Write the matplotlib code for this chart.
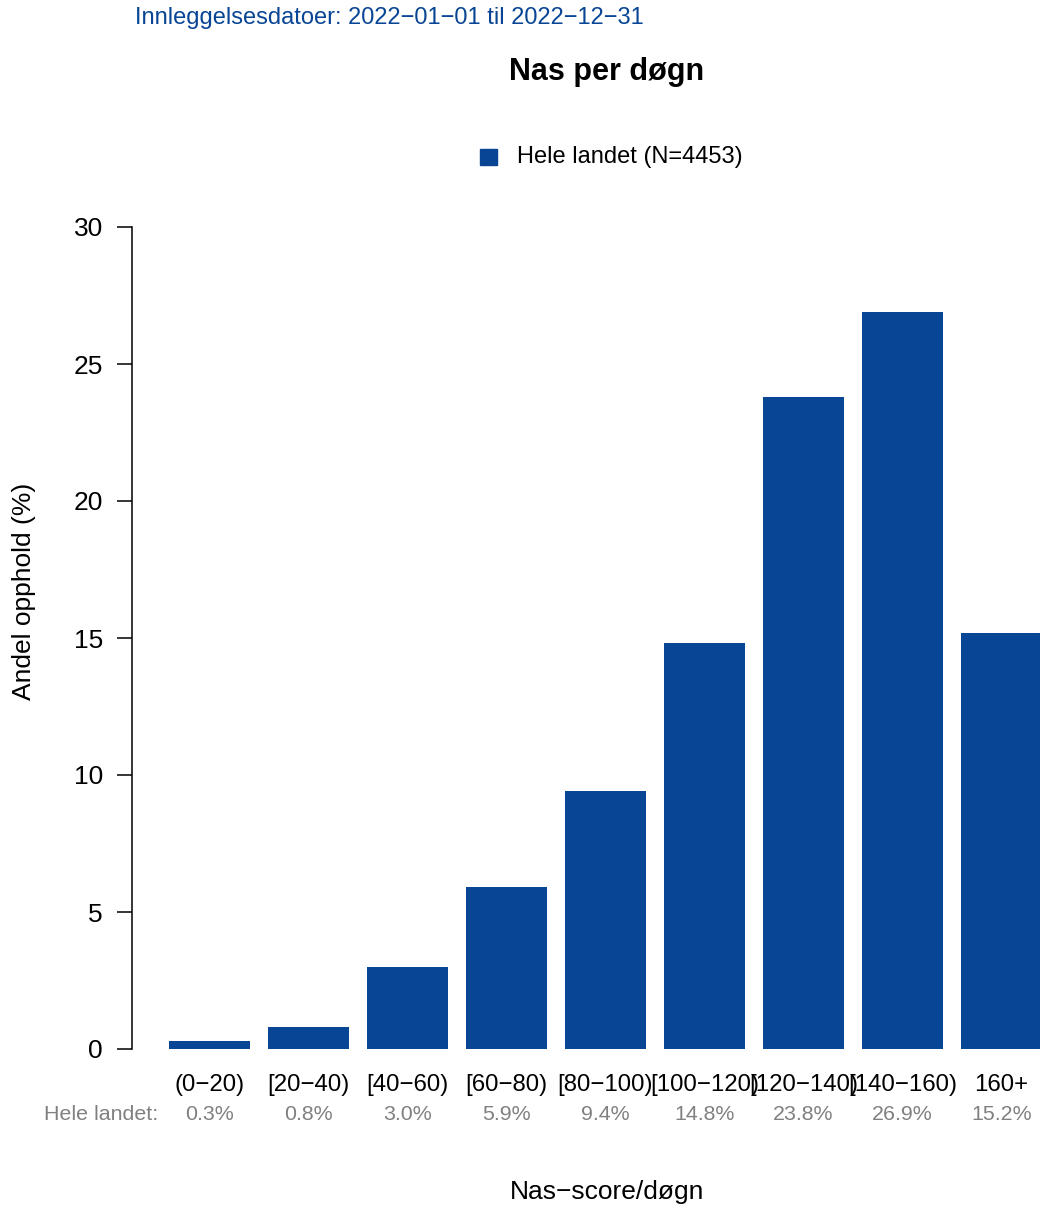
import numpy as np
import matplotlib
matplotlib.use("Agg")
import matplotlib.pyplot as plt
import matplotlib.transforms as mtrans

plt.rcParams['font.family'] = ['Liberation Sans', 'DejaVu Sans']

# data
kategorier = ['(0\u221220)', '[20\u221240)', '[40\u221260)', '[60\u221280)', '[80\u2212100)',
              '[100\u2212120)', '[120\u2212140)', '[140\u2212160)', '160+']
andel = [0.3, 0.8, 3.0, 5.9, 9.4, 14.8, 23.8, 26.9, 15.2]
N = 4453
yticks = [0, 5, 10, 15, 20, 25, 30]

blaa = '#084594'
graa = '#808080'

W, H = 1040, 1209
fig = plt.figure(figsize=(W / 100, H / 100), dpi=100)

def fx(px):
    return px / W

def fy(py):
    return 1 - py / H

ax = fig.add_axes([fx(132), fy(1049), fx(1040) - fx(132), fy(227) - fy(1049)])
x = np.arange(len(kategorier))
ax.bar(x, andel, width=0.82, color=blaa, edgecolor='none')
ax.set_xlim(-0.78, 8.39)
ax.set_ylim(0, 30)

for s in ['top', 'right', 'bottom']:
    ax.spines[s].set_visible(False)
ax.spines['left'].set_bounds(0, 30)
ax.spines['left'].set_linewidth(1.1)
ax.set_yticks(yticks)
ax.tick_params(axis='y', length=11, width=1.1, pad=10, labelsize=19)
ax.set_xticks([])

# labels under bars
tr = mtrans.blended_transform_factory(ax.transData, fig.transFigure)
for i, (k, v) in enumerate(zip(kategorier, andel)):
    ax.text(i, fy(1085), k, transform=tr, ha='center', va='center', fontsize=17.3, clip_on=False)
    ax.text(i, fy(1115), f'{v:.1f}%', transform=tr, ha='center', va='center',
            fontsize=15.4, color=graa, clip_on=False)
fig.text(fx(158), fy(1115), 'Hele landet:', ha='right', va='center', fontsize=15.4, color=graa)

fig.text(fx(607), fy(1192), 'Nas\u2212score/døgn', ha='center', va='center', fontsize=19)
fig.text(fx(24), fy(591), 'Andel opphold (%)', ha='center', va='center', rotation=90, fontsize=19)

fig.text(fx(135), fy(18), 'Innleggelsesdatoer: 2022\u221201\u221201 til 2022\u221212\u221231',
         ha='left', va='center', fontsize=17, color=blaa)
fig.text(fx(607), fy(72), 'Nas per døgn', ha='center', va='center', fontsize=22, fontweight='bold')

# legend
fig.patches.append(plt.Rectangle((fx(480), fy(165)), fx(17), fy(149) - fy(165),
                                 transform=fig.transFigure, color=blaa))
fig.text(fx(517), fy(157), f'Hele landet (N={N})', ha='left', va='center', fontsize=17)

fig.savefig('out.png', dpi=100)
